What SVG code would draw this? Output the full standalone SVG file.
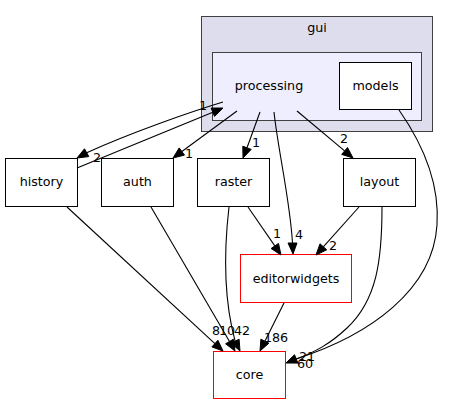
<svg xmlns="http://www.w3.org/2000/svg" width="449" height="404" viewBox="0 0 449 404">
<style>
text { font-family: "DejaVu Sans", "Liberation Sans", sans-serif; font-size: 12.7px; fill: #000; text-anchor: middle; }
.node { fill: #fff; stroke: #000; stroke-width: 1; }
.red { fill: #fff; stroke: #ff0000; stroke-width: 1; }
.edge { fill: none; stroke: #000; stroke-width: 1.1; }
.arrow { fill: #000; stroke: #000; stroke-width: 1; }
</style>
<rect width="449" height="404" fill="#fff"/>
<g id="cluster_gui">
  <rect x="201.5" y="16.5" width="231" height="115" fill="#ddddee" stroke="#404040"/>
  <text x="317" y="32">gui</text>
</g>
<g id="cluster_processing">
  <rect x="212.5" y="52.5" width="209" height="68" fill="#eeeeff" stroke="#404040"/>
  <text x="269" y="89.5">processing</text>
</g>
<g id="node_models">
  <rect class="node" x="339.5" y="62.5" width="72" height="47"/>
  <text x="375.5" y="89.5">models</text>
</g>
<g id="node_history">
  <rect class="node" x="5.5" y="158.5" width="72" height="48"/>
  <text x="41.5" y="186">history</text>
</g>
<g id="node_auth">
  <rect class="node" x="101.5" y="158.5" width="72" height="48"/>
  <text x="137.5" y="186">auth</text>
</g>
<g id="node_raster">
  <rect class="node" x="197.5" y="158.5" width="72" height="48"/>
  <text x="233.5" y="186">raster</text>
</g>
<g id="node_layout">
  <rect class="node" x="343.5" y="158.5" width="72" height="48"/>
  <text x="379.5" y="186">layout</text>
</g>
<g id="node_editorwidgets">
  <rect class="red" x="240.5" y="254.5" width="111" height="48"/>
  <text x="296" y="283">editorwidgets</text>
</g>
<g id="node_core">
  <rect class="red" x="213.5" y="351.5" width="72" height="47"/>
  <text x="249.5" y="379">core</text>
</g>
<g id="connectors">
  <!-- processing -> history -->
  <path class="edge" d="M223,102 C190,112 130,133 86.7,152.7"/>
  <polygon class="arrow" points="88.8,156.6 84.5,148.8 77,158"/>
  <text x="97" y="162">2</text>
  <!-- history -> processing -->
  <path class="edge" d="M77,168 L212.8,112.2"/>
  <polygon class="arrow" points="214.5,116.4 211.1,108 223,108"/>
  <text x="203" y="110">1</text>
  <!-- processing -> auth -->
  <path class="edge" d="M237,111 L181.9,151.5"/>
  <polygon class="arrow" points="184.5,155.1 179.2,147.9 173,158"/>
  <text x="189" y="158">1</text>
  <!-- processing -> raster -->
  <path class="edge" d="M260,112 L247,147.8"/>
  <polygon class="arrow" points="251.2,149.4 242.8,146.2 243,158"/>
  <text x="256" y="147">1</text>
  <!-- processing -> editorwidgets -->
  <path class="edge" d="M274,112 C278,150 290,200 292.5,243"/>
  <polygon class="arrow" points="288,243 297,243 293,254"/>
  <text x="299" y="239">4</text>
  <!-- processing -> layout -->
  <path class="edge" d="M297,111 L344.6,150.9"/>
  <polygon class="arrow" points="347.5,147.5 341.7,154.4 353,158"/>
  <text x="344" y="143">2</text>
  <!-- models -> core -->
  <path class="edge" d="M399,110 C420,140 440,180 437,225 C433,290 370,335 296.2,358.9"/>
  <polygon class="arrow" points="297.9,363.1 294.5,354.7 286,363"/>
  <text x="305" y="368">60</text>
  <!-- layout -> core -->
  <path class="edge" d="M382,207 C382,260 377,300 347,328 C330,344 315,352 296.2,358.9"/>
  <text x="307" y="361">21</text>
  <!-- layout -> editorwidgets -->
  <path class="edge" d="M359,207 L323.3,246.8"/>
  <polygon class="arrow" points="326.7,249.8 320,243.8 316,255"/>
  <text x="333" y="250">2</text>
  <!-- raster -> editorwidgets -->
  <path class="edge" d="M248,207 L274.8,245.9"/>
  <polygon class="arrow" points="278.5,243.4 271.1,248.5 281,255"/>
  <text x="277" y="238">1</text>
  <!-- raster -> core -->
  <path class="edge" d="M229,207 C224,250 224,300 235.1,341.2"/>
  <polygon class="arrow" points="239.1,339.2 231.1,343.2 240,351"/>
  <text x="242" y="335">42</text>
  <!-- history -> core -->
  <path class="edge" d="M67,207 L214.9,343.6"/>
  <polygon class="arrow" points="217.9,340.3 211.9,346.9 223,351"/>
  <text x="216" y="335">8</text>
  <!-- auth -> core -->
  <path class="edge" d="M151,207 L229.5,341.5"/>
  <polygon class="arrow" points="233.4,339.2 225.6,343.8 235,351"/>
  <text x="227" y="335">10</text>
  <!-- editorwidgets -> core -->
  <path class="edge" d="M284,303 L264.9,341.2"/>
  <polygon class="arrow" points="268.9,343.2 260.9,339.2 260,351"/>
  <text x="276" y="342">186</text>
</g>
</svg>
